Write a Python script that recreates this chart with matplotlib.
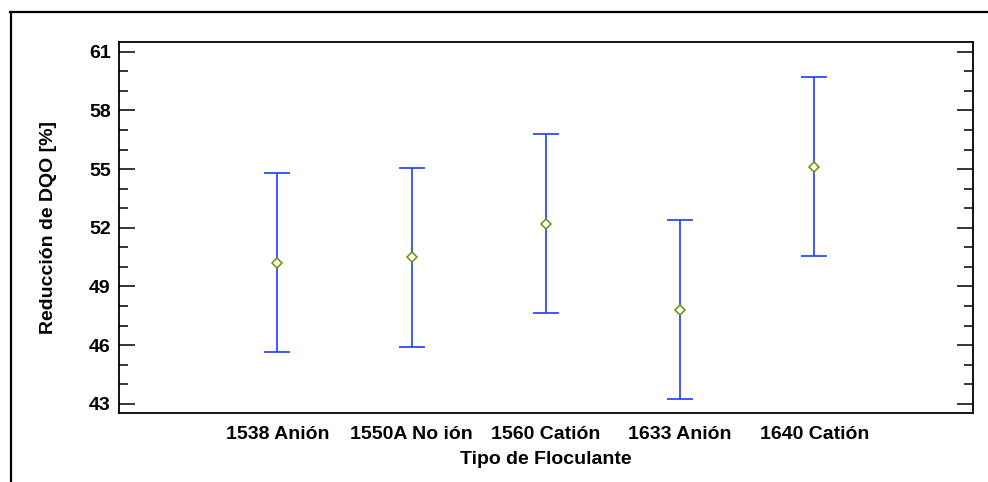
import matplotlib
matplotlib.use("Agg")
import matplotlib.pyplot as plt
from matplotlib.lines import Line2D
from matplotlib.ticker import MultipleLocator
import numpy as np

plt.rcParams['font.family'] = ['Liberation Sans', 'DejaVu Sans']
plt.rcParams['font.weight'] = 'bold'

# Medias y límites de los intervalos por tipo de floculante
categorias = ["1538 Anión", "1550A No ión", "1560 Catión", "1633 Anión", "1640 Catión"]
medias = [50.22, 50.49, 52.20, 47.82, 55.12]
limite_inf = [45.65, 45.91, 47.63, 43.25, 50.55]
limite_sup = [54.79, 55.07, 56.77, 52.39, 59.69]

W, H = 988, 482
fig = plt.figure(figsize=(W / 100, H / 100), dpi=100)

# Marco exterior
fig.add_artist(Line2D([10 / W, 1.0], [1 - 11.5 / H, 1 - 11.5 / H],
                      transform=fig.transFigure, color='black', lw=1.6))
fig.add_artist(Line2D([10.5 / W, 10.5 / W], [1 - 11.5 / H, 0.0],
                      transform=fig.transFigure, color='black', lw=1.6))

ax = fig.add_axes([119 / W, 1 - 413.3 / H, (972.7 - 119) / W, (413.3 - 41.7) / H])

x = np.arange(1, len(categorias) + 1)
medias_a = np.array(medias)
err = np.vstack([medias_a - np.array(limite_inf), np.array(limite_sup) - medias_a])

ax.errorbar(x, medias_a, yerr=err, fmt='none', ecolor='#1f3cff', elinewidth=1.2,
            capsize=9.6, capthick=1.2, zorder=2)
ax.plot(x, medias_a, linestyle='none', marker='D', markersize=5.2,
        markerfacecolor='#fffff0', markeredgecolor='#6a8f10', markeredgewidth=1.1, zorder=3)

ax.set_xlim(-0.18, 6.18)
ax.set_ylim(42.52, 61.51)
ax.yaxis.set_major_locator(MultipleLocator(3))
ax.yaxis.set_minor_locator(MultipleLocator(1))
ax.set_yticks([43, 46, 49, 52, 55, 58, 61])

fs = 14
ax.set_xticks(x)
ax.set_xticklabels(categorias)
ax.tick_params(axis='x', length=0, pad=9.5, labelsize=fs)
ax.tick_params(axis='y', which='major', direction='in', length=11.5, width=1.1,
               left=True, right=True, labelsize=fs, pad=6)
ax.tick_params(axis='y', which='minor', direction='in', length=6.3, width=1.1,
               left=True, right=True)

for s in ax.spines.values():
    s.set_linewidth(1.3)

ax.set_xlabel("Tipo de Floculante", fontsize=fs, fontweight='bold', labelpad=5.5)
ax.set_ylabel("Reducción de DQO [%]", fontsize=fs, fontweight='bold', labelpad=23)

fig.savefig("out.png", dpi=100)
